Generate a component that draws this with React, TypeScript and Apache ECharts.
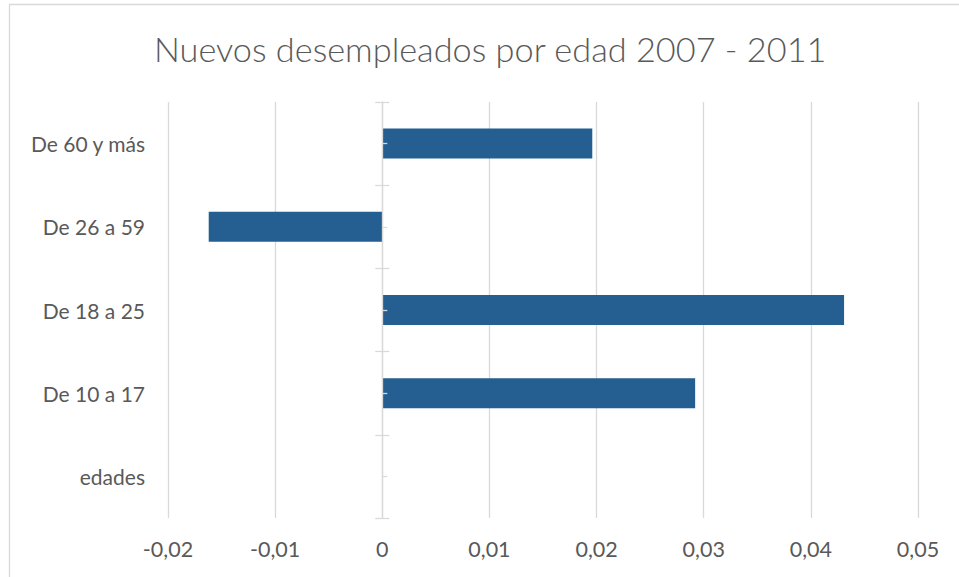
import React, { useEffect, useRef } from "react";
import * as echarts from "echarts";

const title = "Nuevos desempleados por edad 2007 - 2011";
const categories = ["edades", "De 10 a 17", "De 18 a 25", "De 26 a 59", "De 60 y más"];
const values: (number | null)[] = [null, 0.0292, 0.0431, -0.0162, 0.0196];
const xTicks = { min: -0.02, max: 0.05, interval: 0.01 };

const FONT = "Lato";
const TEXT = "#595959";
const GRID = "#D9D9D9";

export default function App() {
  const ref = useRef<HTMLDivElement>(null);
  useEffect(() => {
    const chart = echarts.init(ref.current!, null, { renderer: "svg" });
    const tickAxis = (inside: boolean, length: number, align: boolean, showLine: boolean) => ({
      type: "category",
      data: categories,
      position: "left",
      z: 5,
      axisLine: {
        show: showLine,
        onZero: true,
        onZeroAxisIndex: 0,
        lineStyle: { color: GRID, width: 1.3 },
      },
      axisTick: {
        show: true,
        inside,
        length,
        alignWithLabel: align,
        lineStyle: { color: GRID, width: 1.3 },
      },
      axisLabel: { show: false },
      splitLine: { show: false },
    });
    chart.setOption({
      animation: false,
      backgroundColor: "#ffffff",
      textStyle: { fontFamily: FONT },
      title: {
        text: title,
        left: 149,
        top: 26,
        textStyle: { fontFamily: FONT, fontSize: 34.3, fontWeight: 300, color: TEXT },
      },
      grid: { left: 168, right: 41, top: 102, bottom: 59, containLabel: false },
      xAxis: {
        type: "value",
        min: xTicks.min,
        max: xTicks.max,
        interval: xTicks.interval,
        axisLine: { show: false },
        axisTick: { show: false },
        splitLine: { show: true, lineStyle: { color: GRID, width: 1.3 } },
        axisLabel: {
          color: TEXT,
          fontSize: 21.5,
          fontFamily: FONT,
          margin: 20,
          formatter: (v: number) => {
            const s = Math.round(v * 100) / 100;
            return s === 0 ? "0" : s.toFixed(2).replace(".", ",");
          },
        },
      },
      yAxis: [
        {
          type: "category",
          data: categories,
          position: "left",
          axisLine: { show: false, onZero: false },
          axisTick: { show: false },
          axisLabel: { color: TEXT, fontSize: 21, fontFamily: FONT, margin: 23 },
        },
        tickAxis(false, 7, false, true),
        tickAxis(true, 7, false, false),
        tickAxis(true, 5, true, false),
      ],
      series: [
        {
          type: "bar",
          yAxisIndex: 0,
          data: values,
          barWidth: 30,
          itemStyle: { color: "#255E91" },
          z: 1,
        },
      ],
      graphic: [
        {
          type: "rect",
          shape: { x: 9.5, y: 4.5, width: 1000, height: 700 },
          style: { fill: "none", stroke: GRID, lineWidth: 1.3 },
          silent: true,
        },
      ],
    });
    return () => chart.dispose();
  }, []);
  return (
    <div
      ref={ref}
      style={{ position: "fixed", left: 0, top: 0, width: 959, height: 577 }}
    />
  );
}
